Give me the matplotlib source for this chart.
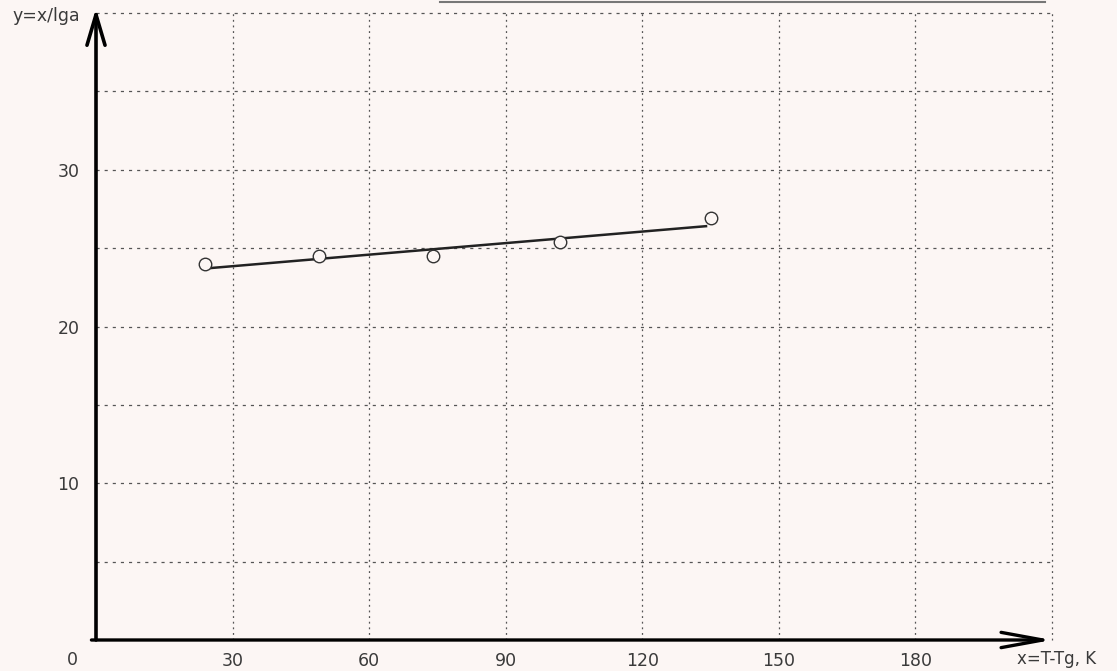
"""
Grafico y = x/lg(a) frente a x = T - Tg, con recta de ajuste.
"""
import matplotlib
matplotlib.use("Agg")
import matplotlib.pyplot as plt

x_pts = [24, 49, 74, 102, 135]
y_pts = [24.0, 24.5, 24.5, 25.4, 26.9]

# Recta de ajuste (extremos)
fit_x = [24, 134]
fit_y = [23.7, 26.4]

# Ejes y etiquetas
x_ticks = [30, 60, 90, 120, 150, 180, 210]
x_labels = ['30', '60', '90', '120', '150', '180', '']
y_ticks = [5, 10, 15, 20, 25, 30, 35, 40]
y_labels = ['', '10', '', '20', '', '30', '', '']

bg = '#fcf6f4'
txt = '#3a3a3a'

fig = plt.figure(figsize=(11.17, 6.71), dpi=100, facecolor=bg)
W, H = 1117, 671
x0, x1 = 96, 1052
y0, y1 = 640, 13
ax = fig.add_axes([x0 / W, 1 - y0 / H, (x1 - x0) / W, (y0 - y1) / H])
ax.set_facecolor(bg)
ax.set_xlim(0, 210)
ax.set_ylim(0, 40)

for s in ax.spines.values():
    s.set_visible(False)

ax.set_xticks(x_ticks)
ax.set_xticklabels(x_labels)
ax.set_yticks(y_ticks)
ax.set_yticklabels(y_labels)
ax.tick_params(length=0, labelsize=12.5, labelcolor=txt)
ax.tick_params(axis='x', pad=9)
ax.tick_params(axis='y', pad=12)

# Rejilla punteada
for yv in y_ticks:
    ax.plot([0, 210], [yv, yv], color='#555555', lw=0.9,
            ls=(0, (2.5, 4)), clip_on=False, zorder=1)
for xv in x_ticks:
    ax.plot([xv, xv], [0, 40], color='#555555', lw=0.9,
            ls=(0, (1.5, 3)), clip_on=False, zorder=1)

# Ejes con flechas
ax.annotate('', xy=(0, 40.3), xytext=(0, 0), xycoords='data',
            arrowprops=dict(arrowstyle='->,head_length=2.2,head_width=0.65',
                            lw=2.6, color='black', shrinkA=0, shrinkB=0),
            annotation_clip=False, zorder=5)
ax.annotate('', xy=(210, 0), xytext=(-1, 0), xycoords='data',
            arrowprops=dict(arrowstyle='->,head_length=3.0,head_width=0.55',
                            lw=2.4, color='black', shrinkA=0, shrinkB=0),
            annotation_clip=False, zorder=5)

# Datos y recta
ax.plot(fit_x, fit_y, color='#222222', lw=1.8, zorder=3)
ax.plot(x_pts, y_pts, 'o', ms=9, mfc=bg, mec='#333333', mew=1.0, zorder=4)

# Textos de ejes
fig.text(72 / W, 1 - 660 / H, '0', fontsize=12.5, color=txt, ha='center', va='center')
fig.text(12 / W, 1 - 16 / H, 'y=x/lga', fontsize=12.5, color=txt, ha='left', va='center')
fig.text(1017 / W, 1 - 659 / H, 'x=T-Tg, K', fontsize=12, color=txt, ha='left', va='center')

# Marco superior recortado del escaneo
fig.add_artist(plt.Line2D([440 / W, 1045 / W], [1 - 2 / H, 1 - 2 / H],
                          color='#777777', lw=1.5))

fig.savefig('out.png', dpi=100, facecolor=bg)
